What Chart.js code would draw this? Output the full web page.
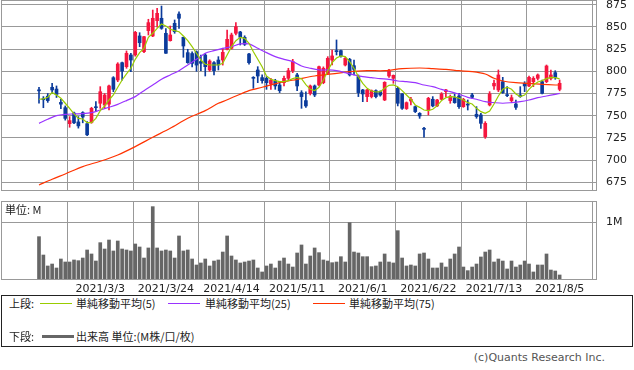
<!DOCTYPE html>
<html><head><meta charset="utf-8">
<script src="https://cdn.jsdelivr.net/npm/chart.js@4.4.0/dist/chart.umd.min.js"></script>
<style>
html,body{margin:0;padding:0;background:#fff;}
body{width:634px;height:370px;position:relative;overflow:hidden;font-family:"DejaVu Sans","Noto Sans CJK JP",sans-serif;font-size:11px;color:#222;}
canvas{position:absolute;left:0;}
#pc{top:0;}
#vc{top:195px;}
.lbl{position:absolute;white-space:nowrap;line-height:13px;}
.jp{font-family:"Noto Sans CJK JP","DejaVu Sans",sans-serif;}
#legend{position:absolute;left:1px;top:295px;width:630px;height:50px;border:1px solid #222;}
.ln{position:absolute;height:0;}
</style></head><body>
<canvas id="pc" width="634" height="191" style="width:634px;height:191px"></canvas>
<canvas id="vc" width="634" height="100" style="width:634px;height:100px"></canvas>
<div class="lbl jp" style="left:5px;top:203px;">単位: M</div>
<div id="legend">
  <div class="lbl jp" style="left:7px;top:1px;">上段:</div>
  <div class="ln" style="left:38px;top:7px;width:32px;border-top:1px solid #99cc00;"></div>
  <div class="lbl jp" style="left:74px;top:1px;">単純移動平均(5)</div>
  <div class="ln" style="left:166px;top:7px;width:32px;border-top:1px solid #9933ff;"></div>
  <div class="lbl jp" style="left:203px;top:1px;">単純移動平均(25)</div>
  <div class="ln" style="left:311px;top:7px;width:32px;border-top:1px solid #ff3300;"></div>
  <div class="lbl jp" style="left:347px;top:1px;">単純移動平均(75)</div>
  <div class="lbl jp" style="left:7px;top:34px;">下段:</div>
  <div class="ln" style="left:40px;top:39px;width:32px;border-top:3px solid #666;"></div>
  <div class="lbl jp" style="left:74px;top:34px;">出来高 単位:(M株/口/枚)</div>
</div>
<div class="lbl" style="right:29px;top:351px;color:#555;">(c)Quants Research Inc.</div>
<script>
// ---- data ----
const tickIdx = [14, 29, 44, 59, 74, 89, 104, 119];
const tickLabels = ['2021/3/3','2021/3/24','2021/4/14','2021/5/11','2021/6/1','2021/6/22','2021/7/13','2021/8/5'];
const priceTicks = [675,700,725,750,775,800,825,850,875];

const opens = [779,769,772,782,780,765,759,741,753,743,753.5,741,742.5,760,764,762,763,792.8,790.2,809.7,
805.2,818.4,818.4,839.8,822.1,845.8,839.8,857,859.7,842.8,834.5,854,864.5,838.3,821,820,822,811,818.4,801.5,
809.7,812.7,812.7,824.8,825.9,842.8,844.3,838.3,819.5,793.2,801.5,792.9,792.1,785.7,789.1,784.6,787.2,792.1,800.7,795.9,
776,767,775.2,783.5,784.6,787.2,797.7,812.7,823.3,823.3,807.1,813.5,806.3,794,779,771.5,771.5,778.2,777.1,767.7,
794.7,792.1,780.8,774.5,758,766.6,760.2,752.7,735.8,756.4,768.5,761,768.5,777.1,767,770.3,772.2,760.2,762.8,773.3,
751.6,750.8,726.4,762.1,783.5,779,788.3,773.3,767,763.2,773.3,786.5,783.5,788.3,792.1,788.3,788.3,792.1,798.5,779.7];
const highs = [782,771.5,775,786.5,783.5,768.5,761,749,754,749,754.5,743.5,759.5,766,782.7,775,784.6,794,809.7,810.5,
822.9,820.3,845,843.5,839.5,858.6,869,871,873.5,848,851,857.8,867,838.5,824.8,822,823,818.4,820,813,
811,816.5,826,846.5,843,854.8,845,840,820.3,794,805.2,795.9,794,792.1,791,786.5,794.7,803.4,813.5,797.7,
778.2,777,784.6,784.6,806,805,816.5,824,835.3,824,816,814.6,812.7,795.9,779.7,779.7,779,779,778,788.3,
802.2,795.9,782,775,765.5,770.7,761,753.5,737,770.7,771.5,768.5,776,779.7,773.3,774.5,775.2,769.6,767.7,775.2,
760.2,752.7,743.3,777.1,790.2,801.5,793.2,782.7,773.3,767.7,782.7,788.3,794.7,794,797,790.2,807.1,801.5,800.7,790.2];
const lows = [764,759,765,775,770.5,758,745,737,741,736,742,727.5,741.5,754.6,758.3,758,756.5,777,788.3,790,
803.4,799.6,817,827.7,821,840.9,839,849.6,847.3,820,834,842.8,848.4,815.8,809,805,800,800.7,794.7,800,
795.9,801.5,807,824,825,840.9,829.6,829,808,780.8,787.2,786.5,779.7,779.7,779.7,776,783.5,790.2,798.5,778.2,
758.3,759.4,773.3,771.5,783.5,786,797,807.1,818.4,816,806,794.7,795.9,771.5,765.8,765.8,770,770,772,767,
793.2,786.5,761,757,757,762.1,753.5,747,725.7,750.8,760,760.2,767.7,771.5,764,764,758.3,759.4,756.4,769.6,
747.1,735.8,724.5,761,779.7,777.1,775.2,771.5,765.8,757.2,770.7,777.1,782.7,782.7,790.2,774.5,787.2,790.2,791,778];
const closes = [778,768,767,779,774,763,747,744.5,742,738.5,748.5,728.5,758.3,759,777,773.3,783.5,779.7,808.2,800.3,
820.3,812.7,843.9,832.2,839,854.8,859.7,865.3,848.4,820.3,840.9,844.6,859.7,828.5,809.7,809,807,809,805.2,811.6,
800.7,807.1,821.4,836,840.9,850.3,838.3,830.4,809.7,792.1,794.7,789.5,787.2,790.2,783.5,778.2,792.1,800.7,810.9,783.5,
771.5,761,783.5,773.3,805.2,803.4,814.6,817.3,822.1,817.3,814.6,795.9,802.2,776,774.5,779,778.2,771.5,773.3,787.6,
800.3,795.5,764,758.3,764.7,768.5,754.6,749.7,734.7,769.6,761,767.7,774.5,779,771.5,764.7,760.2,768.5,762,770.7,
749,741.4,741.4,774.5,786.5,795.9,776,772.6,770.3,759.4,771.5,783.5,793.2,792.1,795.9,775.2,806,795.9,793.2,786.5];

const volumes = [0.751,0.433,0.243,0.277,0.208,0.364,0.312,0.312,0.347,0.335,0.381,0.520,0.451,0.329,0.647,0.537,0.693,0.503,0.676,0.537,
0.520,0.503,0.624,0.572,0.381,0.555,1.271,0.555,0.503,0.520,0.503,0.381,0.763,0.503,0.520,0.364,0.260,0.295,0.364,0.243,
0.329,0.347,0.485,0.763,0.416,0.347,0.295,0.312,0.329,0.347,0.208,0.139,0.243,0.277,0.208,0.329,0.381,0.277,0.225,0.468,
0.607,0.277,0.416,0.555,0.474,0.347,0.329,0.300,0.312,0.404,0.312,0.994,0.485,0.468,0.404,0.404,0.231,0.243,0.312,0.451,
0.312,0.295,0.855,0.381,0.243,0.260,0.243,0.451,0.468,0.364,0.208,0.208,0.295,0.225,0.364,0.451,0.572,0.225,0.162,0.225,
0.277,0.399,0.485,0.520,0.312,0.364,0.329,0.191,0.329,0.225,0.260,0.329,0.277,0.139,0.260,0.260,0.451,0.173,0.156,0.087];

const ma5 = [768.5,769,770.7,776,773.3,769.6,764,758.3,752,747,746.3,742.2,742.2,747,755.7,761,767.7,773.3,782,790.2,
797,803.4,813.5,821,825.9,838.3,842.8,848.4,853.3,851,847.3,845.8,844.6,839.8,834.5,827.8,820.3,812.7,807.9,807.1,
807.1,807.1,809,818.4,827.8,834.5,838.3,837.1,831.5,822.1,813.5,805.2,794.7,791,789.5,788.3,788.3,789.5,791.7,793.2,
791.7,785,779.7,778.2,782,790.2,800.7,809.7,815,817.3,816.5,810.9,803.4,794,786.5,780.8,777.8,776.7,777.1,780.8,
784.2,784.6,782.7,778.2,773.3,768.5,762.1,759.4,756.4,755.7,757.2,761,767,770.3,771.5,771.1,769.6,767.7,764.7,763.2,
758.3,754.6,752.7,755.3,763.2,772.2,779.7,782,779.7,774.5,771.5,773.3,779.7,784.6,788,789.5,791.7,793.2,792.9,791.4];

const ma25Idx = [0,2,4,6,8,10,12,14,16,18,20,22,24,26,28,30,32,34,36,38,40,42,44,46,48,50,52,54,56,58,60,62,64,66,68,70,72,74,76,78,80,82,84,86,88,90,92,94,96,98,100,102,104,106,108,110,112,114,116,118,119];
const ma25 = [741.4,746,750.1,751.6,752,752.3,753.4,756.4,759.5,762.8,767,771.5,778.2,784.6,791,795.9,800.7,807.1,813.5,820.3,
823.3,825.9,827.8,830.8,830.8,825.9,821,816.5,813.5,810.9,806,803.4,801.5,801.5,800.7,798.5,795.9,794,792.9,791.7,
791,789.1,788.3,787.2,784.6,782.7,779.7,777.1,774.1,770.7,768.5,765.8,764.7,764,764.7,765.8,767.7,770.3,772.2,774.1,775.2];

const ma75Idx = [0,3,6,10,14,18,22,26,30,34,38,41,42,45,48,51,55,59,63,67,71,75,79,83,87,90,93,96,99,102,104,106,109,112,115,118,119];
const ma75 = [672,678.4,684.4,692.7,698.7,705.8,715.2,725.7,735.8,747.1,755.7,764,765.8,772.2,778.2,782,787.2,791,794.7,797,
799.6,800.7,800.7,803,803.7,803,802.2,800.7,799.6,797,792.1,789.1,787.2,786.5,785.3,784.6,784.6];

// ---- styles ----
const UP = '#f5163f', DOWN = '#0b3b9b';
const candleColors = opens.map((o, i) => closes[i] >= o ? UP : DOWN);
const GRID = '#999';

Chart.defaults.font.family = '"DejaVu Sans","Noto Sans CJK JP",sans-serif';
Chart.defaults.font.size = 11;
Chart.defaults.color = '#222';

const frame = {
  id: 'frame',
  afterDraw(c) {
    const a = c.chartArea, ctx = c.ctx;
    ctx.save();
    ctx.strokeStyle = GRID; ctx.lineWidth = 1;
    ctx.strokeRect(a.left + 0.5, a.top + 0.5, a.right - a.left - 1, a.bottom - a.top - 1);
    ctx.restore();
  }
};

const XMIN = -8.686, XMAX = 127.54;
function xScale(showLabels) {
  return {
    type: 'linear', min: XMIN, max: XMAX, offset: false,
    afterBuildTicks: s => { s.ticks = tickIdx.map(v => ({ value: v })); },
    ticks: {
      display: showLabels, autoSkip: false, maxRotation: 0, padding: 3,
      callback: v => { const k = tickIdx.indexOf(v); return k >= 0 ? tickLabels[k] : ''; }
    },
    grid: { color: GRID, drawTicks: false },
    border: { display: false },
    afterFit: s => { s.height = showLabels ? 15 : 0; s.paddingLeft = 0; s.paddingRight = 0; }
  };
}
function yFit(s) { s.width = 37; s.paddingTop = 0; s.paddingBottom = 0; }

new Chart(document.getElementById('pc'), {
  type: 'bar',
  data: {
    datasets: [
      { type: 'line', data: ma5.map((v, i) => ({ x: i, y: v })), borderColor: '#99cc00', borderWidth: 1.2, pointRadius: 0, tension: 0, order: 0 },
      { type: 'line', data: ma25Idx.map((x, k) => ({ x, y: ma25[k] })), borderColor: '#9933ff', borderWidth: 1.2, pointRadius: 0, tension: 0.3, order: 0 },
      { type: 'line', data: ma75Idx.map((x, k) => ({ x, y: ma75[k] })), borderColor: '#ff3300', borderWidth: 1.2, pointRadius: 0, tension: 0.3, order: 0 },
      { data: opens.map((o, i) => ({ x: i, y: [o, closes[i]] })), backgroundColor: candleColors, barThickness: 3, minBarLength: 1, grouped: false, order: 1 },
      { data: lows.map((l, i) => ({ x: i, y: [l, highs[i]] })), backgroundColor: candleColors, barThickness: 1, grouped: false, order: 2 }
    ]
  },
  options: {
    responsive: false, animation: false, devicePixelRatio: 1,
    layout: { padding: { left: 1, right: 0, top: 0, bottom: 0 } },
    plugins: { legend: { display: false }, tooltip: { enabled: false } },
    scales: {
      x: xScale(false),
      y: {
        type: 'linear', position: 'right', min: 665.2, max: 880.3,
        afterBuildTicks: s => { s.ticks = priceTicks.map(v => ({ value: v })); },
        ticks: { padding: 9 },
        grid: { color: GRID, drawTicks: false },
        border: { display: false },
        afterFit: yFit
      }
    }
  },
  plugins: [frame]
});

new Chart(document.getElementById('vc'), {
  type: 'bar',
  data: {
    datasets: [
      { data: volumes.map((v, i) => ({ x: i, y: v })), backgroundColor: '#666', barThickness: 3, grouped: false }
    ]
  },
  options: {
    responsive: false, animation: false, devicePixelRatio: 1,
    layout: { padding: { left: 1, right: 0, top: 6, bottom: 0 } },
    plugins: { legend: { display: false }, tooltip: { enabled: false } },
    scales: {
      x: xScale(true),
      y: {
        type: 'linear', position: 'right', min: 0, max: 1.369,
        afterBuildTicks: s => { s.ticks = [{ value: 1 }]; },
        ticks: { padding: 9, callback: v => v + 'M' },
        grid: { color: GRID, drawTicks: false },
        border: { display: false },
        afterFit: yFit
      }
    }
  },
  plugins: [frame]
});
</script>
</body></html>
